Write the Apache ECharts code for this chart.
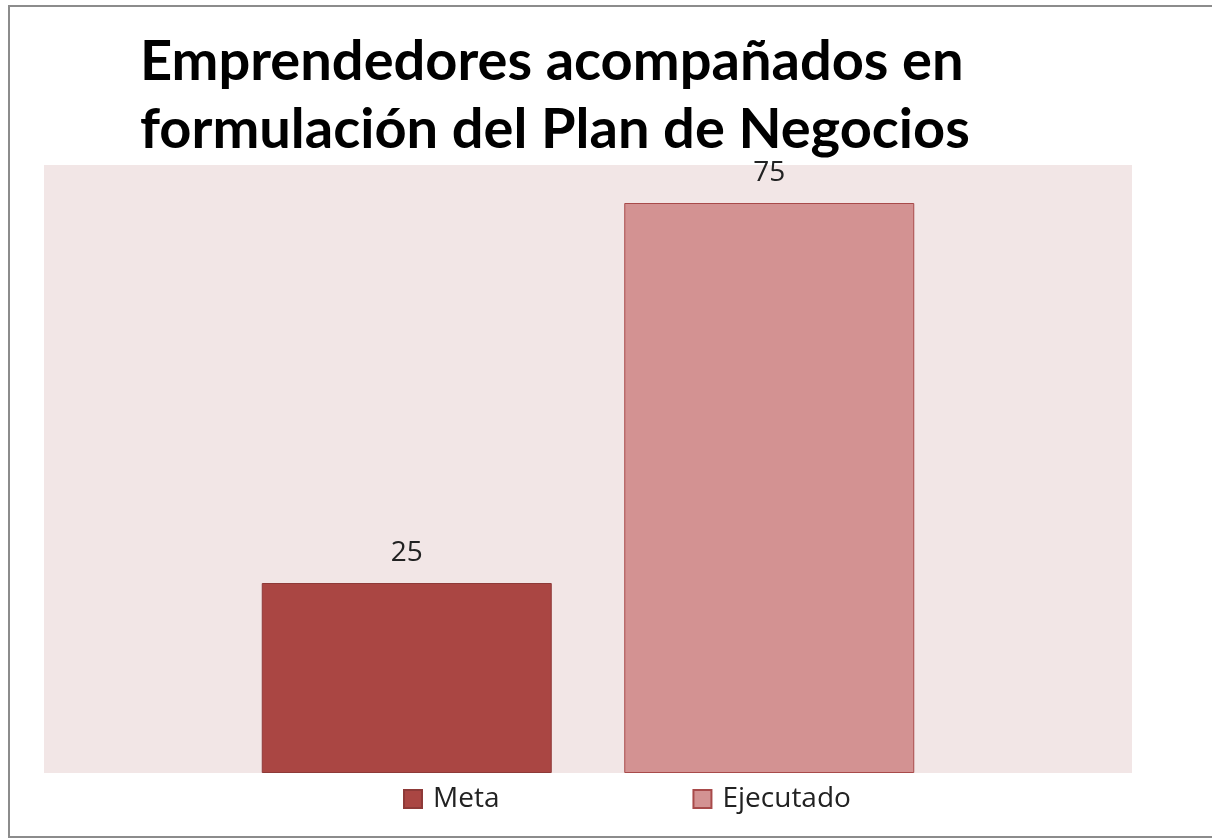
<!DOCTYPE html>
<html>
<head>
<meta charset="utf-8">
<script src="https://cdn.jsdelivr.net/npm/echarts@6/dist/echarts.min.js"></script>
<style>
  html, body { margin: 0; padding: 0; background: #fff; }
  #chart { width: 1212px; height: 839px; }
</style>
</head>
<body>
<div id="chart"></div>
<script>
// datos del gráfico
const categorias = ["Emprendedores"];
const seriesNombres = ["Meta", "Ejecutado"];
const meta = [25];
const ejecutado = [75];

const chart = echarts.init(document.getElementById("chart"));

const option = {
  animation: false,
  backgroundColor: "#fff",
  title: {
    text: "Emprendedores acompañados en\nformulación del Plan de Negocios",
    left: 135,
    top: 23,
    textStyle: {
      fontFamily: "Lato",
      fontWeight: "bold",
      fontSize: 56,
      lineHeight: 68,
      color: "#000",
    },
  },
  graphic: [
    {
      type: "rect",
      shape: { x: 9, y: 6, width: 1215, height: 831 },
      style: { fill: "none", stroke: "#8c8c8c", lineWidth: 2 },
      silent: true,
    },
  ],
  legend: {
    data: seriesNombres,
    left: 398,
    top: 780,
    itemWidth: 18,
    itemHeight: 18,
    itemGap: 193,
    icon: "rect",
    textStyle: { fontFamily: "Open Sans", fontSize: 28, color: "#222", padding: [0, 0, 0, 6] },
  },
  grid: {
    left: 44,
    top: 165,
    width: 1088,
    height: 608,
    show: true,
    backgroundColor: "#F2E6E6",
    borderWidth: 0,
  },
  xAxis: {
    type: "category",
    data: categorias,
    show: false,
  },
  yAxis: {
    type: "value",
    min: 0,
    max: 80,
    show: false,
  },
  series: [
    {
      name: seriesNombres[0],
      type: "bar",
      data: meta,
      barWidth: 290,
      barGap: "25%",
      itemStyle: { color: "#AA4643", borderColor: "#8E3A38", borderWidth: 1 },
      label: {
        show: true,
        position: "top",
        distance: 16,
        fontFamily: "Open Sans",
        fontSize: 28,
        color: "#222",
      },
    },
    {
      name: seriesNombres[1],
      type: "bar",
      data: ejecutado,
      barWidth: 290,
      itemStyle: { color: "#D39292", borderColor: "#A84A4A", borderWidth: 1 },
      label: {
        show: true,
        position: "top",
        distance: 16,
        fontFamily: "Open Sans",
        fontSize: 28,
        color: "#222",
      },
    },
  ],
};

chart.setOption(option);
</script>
</body>
</html>
